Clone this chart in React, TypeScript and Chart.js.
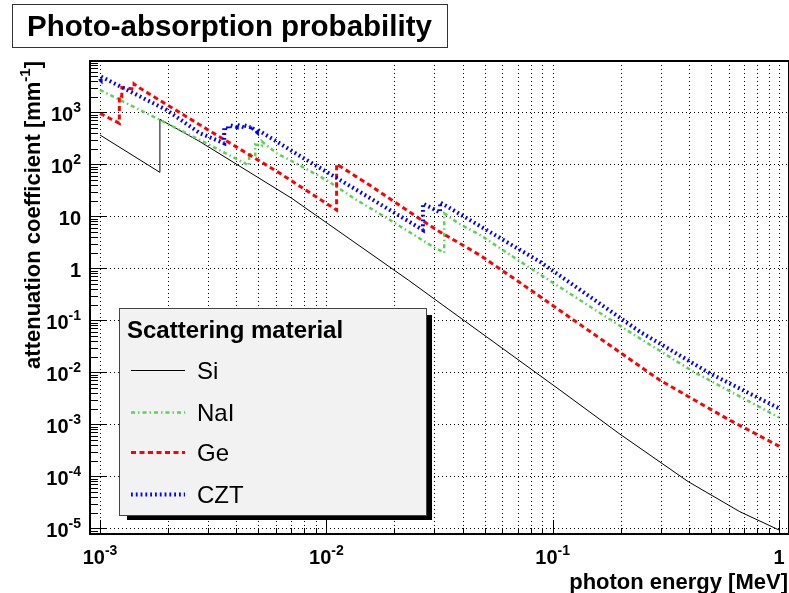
import { useEffect, useRef } from "react";
import { Chart, registerables } from "chart.js";

Chart.register(...registerables);

const FONT = '"Liberation Sans", Arial, Helvetica, sans-serif';

// axis ranges (log10 scales)
const xRange = [9.03e-4, 1.107];
const yRange = [7.78e-6, 9.7e3];

// tick label exponents
const xTickExponents = [-3, -2, -1, 0];
const yTickExponents = [3, 2, 1, 0, -1, -2, -3, -4, -5];

// photon energy [MeV] / attenuation coefficient [mm^-1]
const siEnergy = [1.0e-3, 1.839e-3, 1.839e-3, 2.767e-3, 7.03e-3, 2.3e-2, 0.1076, 0.198, 0.397, 0.671, 1.0];
const siMu = [366, 70, 733, 272, 22.2, 0.596, 4.57e-3, 6.5e-4, 7.9e-5, 2.09e-5, 9.3e-6];

const naiEnergy = [1.0e-3, 2.767e-3, 4.557e-3, 4.557e-3, 4.852e-3, 4.852e-3, 5.188e-3, 5.188e-3, 6.03e-3, 6.9e-3, 1.0e-2, 1.36e-2, 1.91e-2, 2.96e-2, 3.317e-2, 3.317e-2, 3.83e-2, 4.78e-2, 8.2e-2, 0.212, 0.418, 1.0];
const naiMu = [2690, 293, 95, 160, 150, 240, 225, 275, 163, 121, 49.9, 20.6, 8.5, 2.6, 2.0, 11.4, 7.33, 4.37, 0.927, 0.065, 0.0103, 1.36e-3];

const geEnergy = [1.0e-3, 1.217e-3, 1.217e-3, 1.248e-3, 1.248e-3, 1.414e-3, 1.414e-3, 1.503e-3, 2.767e-3, 6.24e-3, 1.11e-2, 1.11e-2, 1.507e-2, 3.07e-2, 4.76e-2, 6.9e-2, 0.297, 0.586, 1.0];
const geMu = [955, 614, 2150, 2050, 3000, 2800, 3500, 2900, 570, 67.1, 13.2, 101, 43.2, 5.46, 1.8, 0.596, 7.1e-3, 1.3e-3, 3.8e-4];

const cztEnergy = [1.0e-3, 1.006e-3, 1.006e-3, 1.97e-3, 2.767e-3, 3.538e-3, 3.538e-3, 3.727e-3, 3.727e-3, 4.018e-3, 4.018e-3, 4.341e-3, 4.341e-3, 4.612e-3, 4.612e-3, 4.939e-3, 4.939e-3, 7.64e-3, 1.0e-2, 2.671e-2, 2.671e-2, 3.18e-2, 3.18e-2, 8.78e-2, 0.2427, 0.494, 1.0];
const cztMu = [4300, 4200, 4900, 1107, 395, 254, 520, 470, 570, 520, 580, 510, 560, 520, 540, 420, 470, 145, 72, 5.46, 17.6, 11.9, 18.6, 1.34, 0.0604, 9.6e-3, 2.03e-3];

const seriesNames = ["Si", "NaI", "Ge", "CZT"];
const legendHeader = "Scattering material";
const chartTitle = "Photo-absorption probability";
const xTitle = "photon energy [MeV]";
const yTitleMain = "attenuation coefficient [mm";
const yTitleSup = "-1";
const yTitleEnd = "]";

const seriesStyles = [
  { color: "#000000", width: 1, dash: [] as number[] },
  { color: "#59d454", width: 2.5, dash: [4, 3, 1.5, 3] },
  { color: "#ff0000", width: 3, dash: [5, 3.5] },
  { color: "#0000ff", width: 4, dash: [1.8, 3] },
];

function zip(e: number[], m: number[]) {
  return e.map((x, i) => ({ x, y: m[i] }));
}

function drawPow(
  ctx: CanvasRenderingContext2D,
  mant: string,
  exp: string,
  x: number,
  y: number,
  align: "left" | "center" | "right",
  baseSize: number,
  supSize: number,
  raise: number
) {
  const baseFont = `bold ${baseSize}px ${FONT}`;
  const supFont = `bold ${supSize}px ${FONT}`;
  ctx.font = baseFont;
  const w1 = ctx.measureText(mant).width;
  let w2 = 0;
  if (exp) {
    ctx.font = supFont;
    w2 = ctx.measureText(exp).width;
  }
  const total = w1 + w2;
  const sx = align === "right" ? x - total : align === "center" ? x - total / 2 : x;
  ctx.textAlign = "left";
  ctx.textBaseline = "alphabetic";
  ctx.font = baseFont;
  ctx.fillText(mant, sx, y);
  if (exp) {
    ctx.font = supFont;
    ctx.fillText(exp, sx + w1, y - raise);
  }
}

function powLabel(e: number): [string, string] {
  if (e === 0) return ["1", ""];
  if (e === 1) return ["10", ""];
  return ["10", String(e)];
}

const decorPlugin = {
  id: "decor",
  beforeDatasetsDraw(chart: any) {
    const { ctx, chartArea: a, scales } = chart;
    const x = scales.x;
    const y = scales.y;
    ctx.save();
    ctx.beginPath();
    ctx.rect(a.left, a.top, a.right - a.left, a.bottom - a.top);
    ctx.clip();
    ctx.strokeStyle = "#000";
    ctx.lineWidth = 1;
    ctx.setLineDash([1, 3]);
    for (let e = -4; e <= 0; e++) {
      for (let m = 1; m <= 9; m++) {
        const v = m * Math.pow(10, e);
        if (v < x.min || v > x.max) continue;
        const px = Math.round(x.getPixelForValue(v)) + 0.5;
        ctx.beginPath();
        ctx.moveTo(px, a.top);
        ctx.lineTo(px, a.bottom);
        ctx.stroke();
      }
    }
    for (const e of yTickExponents) {
      const py = Math.round(y.getPixelForValue(Math.pow(10, e))) + 0.5;
      ctx.beginPath();
      ctx.moveTo(a.left, py);
      ctx.lineTo(a.right, py);
      ctx.stroke();
    }
    ctx.restore();
  },
  afterDatasetsDraw(chart: any) {
    const { ctx, chartArea: a, scales } = chart;
    const x = scales.x;
    const y = scales.y;
    ctx.save();
    ctx.setLineDash([]);
    ctx.strokeStyle = "#000";
    ctx.fillStyle = "#000";

    // ticks
    ctx.lineWidth = 1;
    for (let e = -6; e <= 4; e++) {
      for (let m = 1; m <= 9; m++) {
        const v = m * Math.pow(10, e);
        if (v < y.min || v > y.max) continue;
        const py = Math.round(y.getPixelForValue(v)) + 0.5;
        const len = m === 1 ? 16 : 8;
        ctx.beginPath();
        ctx.moveTo(a.left, py);
        ctx.lineTo(a.left + len, py);
        ctx.stroke();
      }
    }
    for (let e = -4; e <= 0; e++) {
      for (let m = 1; m <= 9; m++) {
        const v = m * Math.pow(10, e);
        if (v < x.min || v > x.max) continue;
        const px = Math.round(x.getPixelForValue(v)) + 0.5;
        const len = m === 1 ? 14 : 6;
        ctx.beginPath();
        ctx.moveTo(px, a.bottom);
        ctx.lineTo(px, a.bottom - len);
        ctx.stroke();
      }
    }

    // frame
    ctx.lineWidth = 2;
    ctx.strokeRect(a.left, a.top, a.right - a.left, a.bottom - a.top);

    // tick labels
    for (const e of yTickExponents) {
      const py = y.getPixelForValue(Math.pow(10, e));
      const [mant, exp] = powLabel(e);
      drawPow(ctx, mant, exp, 81, py + 9, "right", 20, 14, 9);
    }
    for (const e of xTickExponents) {
      const px = x.getPixelForValue(Math.pow(10, e));
      const [mant, exp] = powLabel(e);
      drawPow(ctx, mant, exp, px, 564, "center", 20, 14, 9);
    }

    // axis titles
    ctx.font = `bold 22px ${FONT}`;
    ctx.textAlign = "right";
    ctx.textBaseline = "alphabetic";
    ctx.fillText(xTitle, 788, 589);

    ctx.save();
    ctx.translate(40, 61);
    ctx.rotate(-Math.PI / 2);
    ctx.font = `bold 22px ${FONT}`;
    const wEnd = ctx.measureText(yTitleEnd).width;
    ctx.font = `bold 15px ${FONT}`;
    const wSup = ctx.measureText(yTitleSup).width;
    ctx.font = `bold 22px ${FONT}`;
    const wMain = ctx.measureText(yTitleMain).width;
    const total = wMain + wSup + wEnd;
    ctx.textAlign = "left";
    ctx.fillText(yTitleMain, -total, 0);
    ctx.font = `bold 15px ${FONT}`;
    ctx.fillText(yTitleSup, -total + wMain, -10);
    ctx.font = `bold 22px ${FONT}`;
    ctx.fillText(yTitleEnd, -total + wMain + wSup, 0);
    ctx.restore();

    // legend
    ctx.fillStyle = "#000";
    ctx.fillRect(127, 315, 305, 205);
    ctx.fillStyle = "#f2f2f2";
    ctx.fillRect(119, 308, 307, 207);
    ctx.strokeStyle = "#444";
    ctx.lineWidth = 1;
    ctx.strokeRect(119.5, 308.5, 307, 207);
    ctx.fillStyle = "#000";
    ctx.font = `bold 24px ${FONT}`;
    ctx.textAlign = "left";
    ctx.fillText(legendHeader, 127, 338);
    const entryY = [370, 412, 452, 494];
    seriesNames.forEach((name, i) => {
      const st = seriesStyles[i];
      const yy = entryY[i] + 0.5;
      ctx.save();
      ctx.strokeStyle = st.color;
      ctx.lineWidth = st.width;
      ctx.setLineDash(st.dash);
      ctx.beginPath();
      ctx.moveTo(131, yy);
      ctx.lineTo(185, yy);
      ctx.stroke();
      ctx.restore();
      ctx.fillStyle = "#000";
      ctx.font = `24px ${FONT}`;
      ctx.fillText(name, 197, entryY[i] + 8.5);
    });

    // title box
    ctx.fillStyle = "#fff";
    ctx.fillRect(12, 4, 435, 43);
    ctx.strokeStyle = "#333";
    ctx.lineWidth = 1;
    ctx.strokeRect(12.5, 4.5, 435, 43);
    ctx.fillStyle = "#000";
    ctx.font = `bold 29.5px ${FONT}`;
    ctx.textAlign = "center";
    ctx.fillText(chartTitle, 229.5, 36);

    ctx.restore();
  },
};

export default function App() {
  const ref = useRef<HTMLCanvasElement | null>(null);
  useEffect(() => {
    if (!ref.current) return;
    const all = [
      zip(siEnergy, siMu),
      zip(naiEnergy, naiMu),
      zip(geEnergy, geMu),
      zip(cztEnergy, cztMu),
    ];
    const chart = new Chart(ref.current, {
      type: "line",
      data: {
        datasets: all.map((d, i) => ({
          label: seriesNames[i],
          data: d,
          borderColor: seriesStyles[i].color,
          borderWidth: seriesStyles[i].width,
          borderDash: seriesStyles[i].dash,
          pointRadius: 0,
          tension: 0,
          fill: false,
          order: 3 - i,
        })),
      },
      options: {
        animation: false,
        responsive: false,
        devicePixelRatio: 1,
        layout: { padding: { left: 90, top: 61, right: 0, bottom: 59 } },
        plugins: {
          legend: { display: false },
          title: { display: false },
          tooltip: { enabled: false },
        },
        events: [],
        scales: {
          x: {
            type: "logarithmic",
            min: xRange[0],
            max: xRange[1],
            bounds: "data",
            display: false,
          },
          y: {
            type: "logarithmic",
            min: yRange[0],
            max: yRange[1],
            bounds: "data",
            display: false,
          },
        },
      },
      plugins: [decorPlugin],
    } as any);
    return () => chart.destroy();
  }, []);
  return (
    <div style={{ position: "absolute", left: 0, top: 0, width: 789, height: 593, background: "#fff" }}>
      <canvas ref={ref} width={789} height={593} />
    </div>
  );
}
